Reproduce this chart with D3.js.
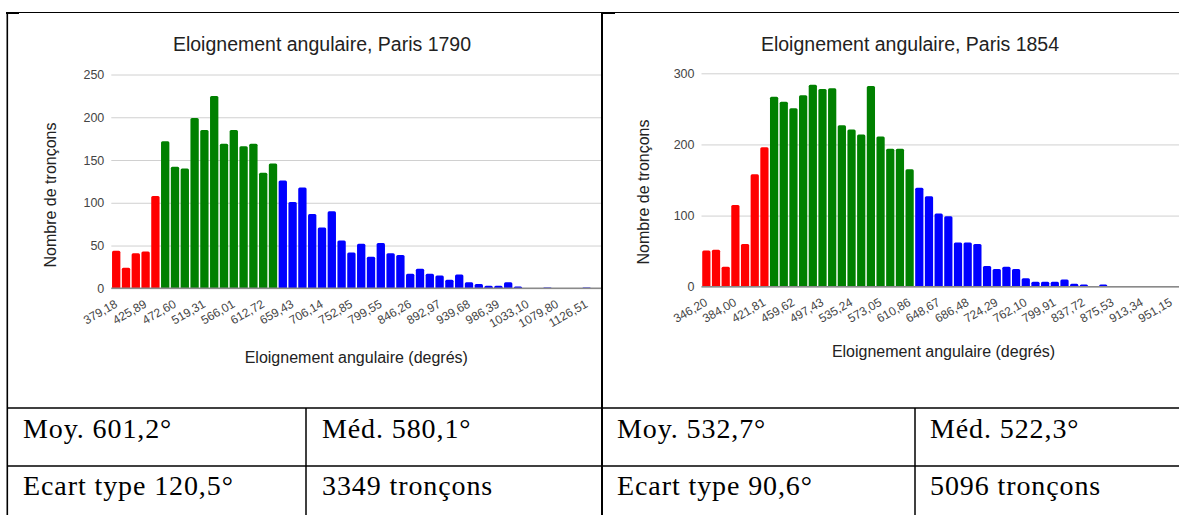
<!DOCTYPE html>
<html><head><meta charset="utf-8">
<script src="https://cdn.jsdelivr.net/npm/d3@7"></script>
<style>
html,body{margin:0;padding:0;background:#fff;}
svg{display:block;}
</style></head>
<body>
<svg id="c" width="1179" height="515"></svg>
<script>
// ---------- DATA ----------
// Paris 1790
const bins1790 = 50;
const red1790   = [44, 24, 41, 43, 108];
const green1790 = [172, 142, 140, 199, 185, 225, 169, 185, 166, 169, 135, 146];
const blue1790  = [126, 101, 118, 87, 71, 90, 56, 42, 52, 37, 53, 41, 39, 17, 23, 17, 15, 10, 16, 7, 5, 3, 3, 7, 2, 0, 0, 1, 0, 0, 0, 1, 0];
const xLabels1790 = ["379,18","425,89","472,60","519,31","566,01","612,72","659,43","706,14","752,85","799,55","846,26","892,97","939,68","986,39","1033,10","1079,80","1126,51"];
const yTicks1790 = [0, 50, 100, 150, 200, 250];

// Paris 1854
const bins1854 = 50;
const red1854   = [51, 52, 28, 115, 60, 158, 196];
const green1854 = [267, 260, 251, 269, 284, 278, 279, 227, 221, 214, 282, 211, 194, 194, 165];
const blue1854  = [139, 127, 103, 99, 62, 62, 60, 29, 25, 28, 25, 12, 7, 7, 7, 10, 4, 3, 0, 3, 0, 0, 0, 0, 0, 0, 0, 0];
const xLabels1854 = ["346,20","384,00","421,81","459,62","497,43","535,24","573,05","610,86","648,67","686,48","724,29","762,10","799,91","837,72","875,53","913,34","951,15"];
const yTicks1854 = [0, 100, 200, 300];

const titles = ["Eloignement angulaire, Paris 1790", "Eloignement angulaire, Paris 1854"];
const yTitle = "Nombre de tronçons";
const xTitle = "Eloignement angulaire (degrés)";

const tableRow1 = ["Moy. 601,2°", "Méd. 580,1°", "Moy. 532,7°", "Méd. 522,3°"];
const tableRow2 = ["Ecart type 120,5°", "3349 tronçons", "Ecart type 90,6°", "5096 tronçons"];

// ---------- DRAW ----------
const svg = d3.select("#c");
svg.append("rect").attr("width",1179).attr("height",515).attr("fill","#fff");
const FONT = "'Liberation Sans', Arial, sans-serif";
const COLORS = {red:"#ff0000", green:"#008000", blue:"#0000ff"};

function drawChart(cfg){
  const g = svg.append("g");
  const clipId = "clip" + cfg.id;
  svg.append("clipPath").attr("id", clipId).append("rect")
    .attr("x", cfg.clip[0]).attr("y", 0).attr("width", cfg.clip[1]-cfg.clip[0]).attr("height", 515);
  const cg = g.append("g").attr("clip-path", `url(#${clipId})`);

  const series = [];
  cfg.red.forEach(v => series.push({v, c: COLORS.red}));
  cfg.green.forEach(v => series.push({v, c: COLORS.green}));
  cfg.blue.forEach(v => series.push({v, c: COLORS.blue}));

  const x = d3.scaleBand().domain(d3.range(cfg.n)).range([cfg.left, cfg.right])
    .paddingInner(0.15).paddingOuter(0.075);
  const y = d3.scaleLinear().domain([0, cfg.yMax]).range([cfg.bottom, cfg.top]);

  // gridlines + y labels
  const ya = d3.axisLeft(y).tickValues(cfg.yTicks).tickSize(-(cfg.right - cfg.left)).tickPadding(7);
  const yg = cg.append("g").attr("transform", `translate(${cfg.left},0)`).call(ya);
  yg.select(".domain").remove();
  yg.selectAll(".tick line").attr("stroke", "#d0d0d0").attr("stroke-width", 1);
  yg.selectAll(".tick text").attr("fill", "#444").style("font-family", FONT).style("font-size", "12.5px");

  // bars
  const r = 1.5;
  cg.append("g").selectAll("path").data(series).join("path")
    .attr("fill", d => d.c)
    .attr("d", (d, i) => {
      if (d.v <= 0) return "";
      const x0 = x(i), w = x.bandwidth(), y0 = y(d.v), y1 = y(0);
      const rr = Math.min(r, (y1 - y0));
      return `M${x0},${y1}V${y0+rr}Q${x0},${y0} ${x0+rr},${y0}H${x0+w-rr}Q${x0+w},${y0} ${x0+w},${y0+rr}V${y1}Z`;
    });

  // baseline
  cg.append("line").attr("x1", cfg.left).attr("x2", cfg.right)
    .attr("y1", y(0)).attr("y2", y(0)).attr("stroke", "#8a8a8a").attr("stroke-width", 1.5);

  // x labels
  const tickIdx = cfg.xLabels.map((_, k) => k * 3);
  const xa = d3.axisBottom(x).tickValues(tickIdx).tickSize(0).tickFormat((d, k) => cfg.xLabels[k]);
  const xg = cg.append("g").attr("transform", `translate(0,${y(0)})`).call(xa);
  xg.select(".domain").remove();
  xg.selectAll(".tick text")
    .attr("fill", "#444").style("font-family", FONT).style("font-size", "12px")
    .attr("text-anchor", "end").attr("x", 0).attr("y", 0).attr("dy", 0)
    .attr("transform", `translate(${cfg.lblDx},${cfg.lblDy}) rotate(-30)`);

  // title
  g.append("text").attr("x", cfg.titleX).attr("y", 51).attr("text-anchor", "middle")
    .attr("fill", "#222").style("font-family", FONT).style("font-size", "19.5px").text(cfg.title);
  // y title
  g.append("text").attr("transform", `translate(${cfg.yTitleX},${cfg.yTitleY}) rotate(-90)`)
    .attr("text-anchor", "middle").attr("fill", "#222")
    .style("font-family", FONT).style("font-size", "16px").text(yTitle);
  // x title
  g.append("text").attr("x", (cfg.left + cfg.right) / 2).attr("y", cfg.xTitleY).attr("text-anchor", "middle")
    .attr("fill", "#222").style("font-family", FONT).style("font-size", "16px").text(xTitle);
}

drawChart({id: 1, n: bins1790, red: red1790, green: green1790, blue: blue1790,
  left: 111.3, right: 601.3, top: 74.5, bottom: 288.3, yMax: 250, yTicks: yTicks1790,
  xLabels: xLabels1790, clip: [8, 602], title: titles[0], titleX: 322,
  yTitleX: 56, yTitleY: 195, xTitleY: 363, lblDx: 2, lblDy: 18});

drawChart({id: 2, n: bins1854, red: red1854, green: green1854, blue: blue1854,
  left: 701.5, right: 1185.5, top: 73.3, bottom: 286.7, yMax: 300, yTicks: yTicks1854,
  xLabels: xLabels1854, clip: [603, 1179], title: titles[1], titleX: 910,
  yTitleX: 649, yTitleY: 192, xTitleY: 357, lblDx: 2, lblDy: 18});

// ---------- TABLE ----------
const tg = svg.append("g").attr("stroke", "#000");
const hl = (x1, x2, yy, w) => tg.append("line").attr("x1", x1).attr("x2", x2).attr("y1", yy).attr("y2", yy).attr("stroke-width", w);
const vl = (xx, y1, y2, w) => tg.append("line").attr("x1", xx).attr("x2", xx).attr("y1", y1).attr("y2", y2).attr("stroke-width", w);
hl(7, 1179, 12.5, 1.2);
hl(7, 1179, 408, 1.5);
hl(7, 1179, 466, 1.5);
vl(7.3, 12, 515, 1.6);
vl(602, 12, 515, 2);
vl(306, 408, 515, 1.5);
vl(915, 408, 515, 1.5);
svg.append("rect").attr("x", 6).attr("y", 12).attr("width", 13).attr("height", 2).attr("fill", "#000");
svg.append("rect").attr("x", 601).attr("y", 12).attr("width", 14).attr("height", 2).attr("fill", "#000");

const colX = [23, 322, 617, 930];
const SERIF = "'Liberation Serif', 'Times New Roman', serif";
svg.append("g").selectAll("text").data(tableRow1).join("text")
  .attr("x", (d, i) => colX[i]).attr("y", 438).attr("fill", "#000")
  .style("font-family", SERIF).style("font-size", "28px").style("letter-spacing", "0.9px").text(d => d);
svg.append("g").selectAll("text").data(tableRow2).join("text")
  .attr("x", (d, i) => colX[i]).attr("y", 495).attr("fill", "#000")
  .style("font-family", SERIF).style("font-size", "28px").style("letter-spacing", "0.9px").text(d => d);
</script>
</body></html>
